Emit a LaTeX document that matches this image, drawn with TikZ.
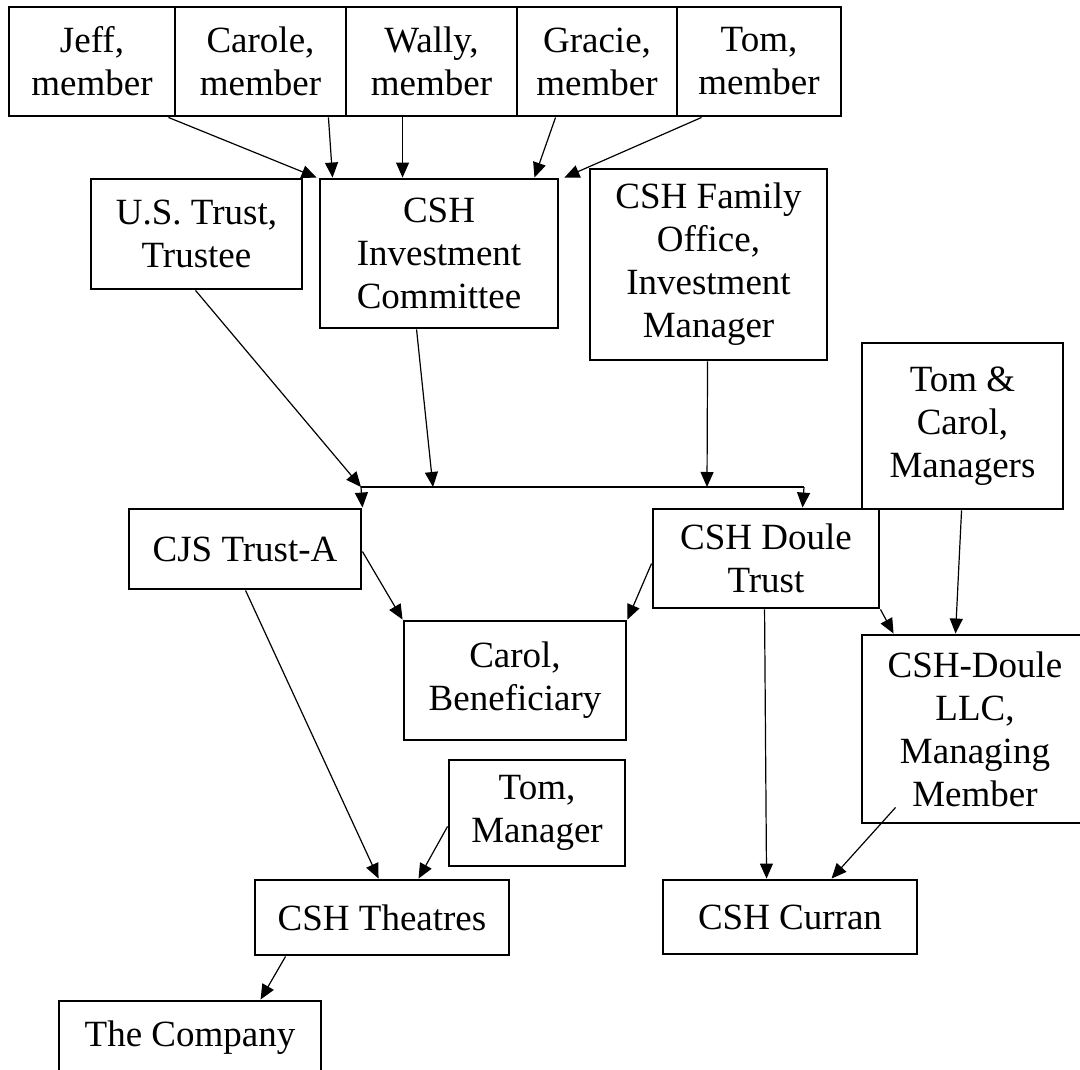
\documentclass[tikz,border=0pt]{standalone}
\usepackage{fontspec}
\setmainfont{Liberation Serif}
\usetikzlibrary{arrows.meta,calc}
\tikzset{
  box/.style={draw, line width=2.9pt, inner sep=0pt, align=center,
    font=\fontsize{37}{43}\selectfont},
  conn/.style={line width=1.2pt, -{Triangle[length=15pt,width=13pt]}},
  plain/.style={line width=1.2pt}
}
\newcommand{\bx}[6]{\node[box, minimum width={(#4)-(#2)}, minimum height={(#5)-(#3)}] (#1) at ({((#2)+(#4))/2},{((#3)+(#5))/2}) {#6};}
\begin{document}
\begin{tikzpicture}[x=1pt,y=-1pt]
\useasboundingbox (0,0) rectangle (1080,1070);
\bx{jeff}{9}{7}{175}{116}{Jeff,\\member}
\bx{carole}{175}{7}{346}{116}{Carole,\\member}
\bx{wally}{346}{7}{517}{116}{Wally,\\member}
\bx{gracie}{517}{7}{677}{116}{Gracie,\\member}
\bx{tomm}{677}{7}{841}{116}{Tom,\\member}
\bx{ustrust}{91}{179}{302}{289}{U.S. Trust,\\Trustee}
\bx{invcom}{320}{179}{558}{328}{CSH\\Investment\\Committee}
\bx{famoff}{590}{169}{827}{360}{CSH Family\\Office,\\Investment\\Manager}
\bx{tomcarol}{862}{343}{1063}{509}{Tom \&\\Carol,\\Managers}
\bx{cjs}{129}{509}{361}{589}{CJS Trust-A}
\bx{doule}{653}{509}{879}{608}{CSH Doule\\Trust}
\bx{carol}{404}{621}{626}{740}{Carol,\\Beneficiary}
\bx{llc}{862}{635}{1088}{823}{CSH-Doule\\LLC,\\Managing\\Member}
\bx{tommgr}{449}{760}{625}{866}{Tom,\\Manager}
\bx{theatres}{255}{880}{509}{955}{CSH Theatres}
\bx{curran}{663}{880}{917}{954}{CSH Curran}
\bx{company}{59}{1001}{321}{1075}{The Company}

\coordinate (jl) at (361,487);
\coordinate (j2) at (433,487);
\coordinate (j3) at (707,487);
\coordinate (jr) at (804,487);

\draw[conn] ($(jeff.south east)+(-8,0)$) -- ($(invcom.north west)+(-2,0)$);
\draw[conn] ($(carole.south east)+(-19,0)$) -- ($(invcom.north west)+(14,0)$);
\draw[conn] ($(wally.south west)+(58,0)$) -- ($(invcom.north west)+(84,0)$);
\draw[conn] ($(gracie.south west)+(40,0)$) -- ($(invcom.north east)+(-25,0)$);
\draw[conn] ($(tomm.south west)+(26,0)$) -- ($(invcom.north east)+(5,0)$);

\draw[conn] ($(ustrust.south west)+(106,0)$) -- (jl);
\draw[conn] ($(invcom.south west)+(98,0)$) -- (j2);
\draw[conn] ($(famoff.south west)+(119,0)$) -- (j3);
\draw[plain] (jl) -- (jr);
\draw[conn] (jl) -- (cjs.north east);
\draw[conn] (jr) -- ($(doule.north west)+(151,0)$);

\draw[conn] ($(cjs.north east)+(0,44)$) -- (carol.north west);
\draw[conn] ($(doule.north west)+(0,56)$) -- (carol.north east);
\draw[conn] (doule.south east) -- ($(llc.north west)+(33,0)$);
\draw[conn] ($(tomcarol.south west)+(101,0)$) -- ($(llc.north west)+(95,0)$);

\draw[conn] ($(cjs.south west)+(118,0)$) -- ($(theatres.north west)+(125,0)$);
\draw[conn] ($(tommgr.south west)+(0,-41)$) -- ($(theatres.north west)+(165,0)$);
\draw[conn] ($(doule.south west)+(113,0)$) -- ($(curran.north west)+(105,0)$);
\draw[conn] ($(llc.south west)+(35,-17)$) -- ($(curran.north west)+(170,0)$);
\draw[conn] ($(theatres.south west)+(32,0)$) -- ($(company.north west)+(203,0)$);
\end{tikzpicture}
\end{document}
